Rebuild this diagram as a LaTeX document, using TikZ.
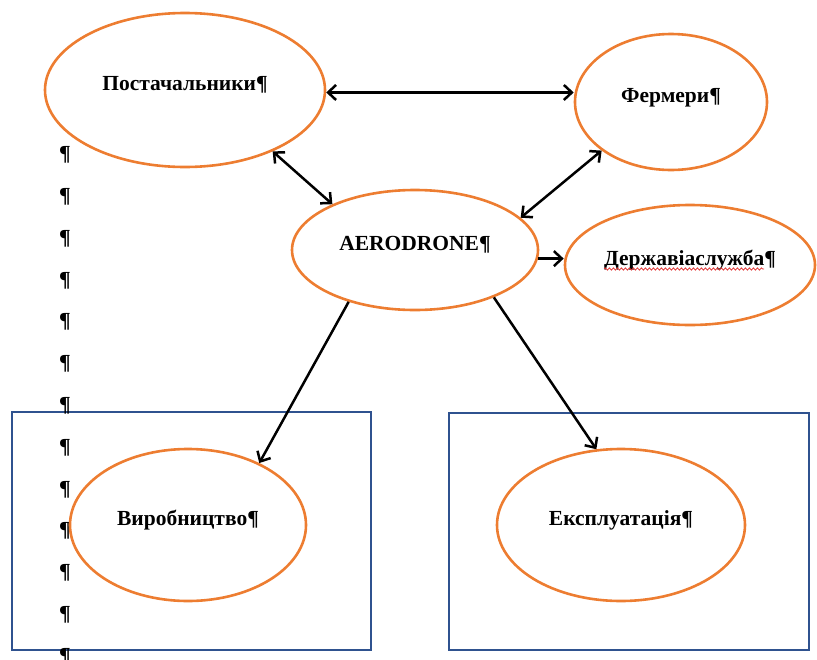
\documentclass[tikz,border=0pt]{standalone}
\usepackage{fontspec}
\setmainfont{Liberation Serif}
\usetikzlibrary{arrows.meta,decorations.pathmorphing,shapes.geometric}
\definecolor{ellorange}{HTML}{ED7D31}
\definecolor{boxblue}{HTML}{2F528F}
\definecolor{spellred}{HTML}{E03030}
\begin{document}
\begin{tikzpicture}[x=1pt,y=-1pt,
  oval/.style={ellipse, draw=ellorange, line width=2.6pt, inner sep=0pt,
    font=\bfseries\fontsize{21.5}{24}\selectfont, text height=15pt, text depth=15pt},
  frame/.style={rectangle, draw=boxblue, line width=2.1pt, inner sep=0pt},
  tip/.style={Straight Barb[length=8pt,width=15pt]},
  link/.style={line width=2.5pt, -{Straight Barb[length=8pt,width=15pt]}},
  dlink/.style={line width=2.5pt, {Straight Barb[length=8pt,width=15pt]}-{Straight Barb[length=8pt,width=15pt]}},
  pil/.style={font=\bfseries\fontsize{21.5}{24}\selectfont, inner sep=0pt}]
\useasboundingbox (0,0) rectangle (817,659);

% frames
\node[frame, minimum width=359pt, minimum height=238pt] (lframe) at (191.5,531) {};
\node[frame, minimum width=360pt, minimum height=237pt] (rframe) at (629,531.5) {};

% pilcrows on the left
\foreach \i in {0,...,12}{
  \node[pil] (pil\i) at (65,{155+41.8*\i}) {¶};
}

% ellipses
\node[oval, minimum width=280pt, minimum height=154pt] (post) at (185,90) {Постачальники¶};
\node[oval, minimum width=192pt, minimum height=136pt] (ferm) at (671,102) {Фермери¶};
\node[oval, minimum width=246pt, minimum height=120pt] (aero) at (415,250) {AERODRONE¶};
\node[oval, minimum width=250pt, minimum height=120pt] (derz) at (690,265) {Державіаслужба¶};
\node[oval, minimum width=236pt, minimum height=152pt] (vyro) at (188,525) {Виробництво¶};
\node[oval, minimum width=248pt, minimum height=152pt] (ekspl) at (621,525) {Експлуатація¶};

% spell-check underline
\draw[spellred, line width=0.8pt, decorate, decoration={snake, amplitude=1.1pt, segment length=4pt}]
  ([yshift=-4pt]derz.text) -- ([xshift=160pt,yshift=-4pt]derz.text);

% connectors
\draw[dlink] (post.-1) -- (post.-1 -| ferm.west);
\draw[dlink] (post.-35) -- (aero.151);
\draw[dlink] (ferm.215) -- (aero.17);
\draw[link] (aero.-4) -- (aero.-4 -| derz.west);
\draw[link] (aero.218) -- (vyro.41);
\draw[link] (aero.-31) -- (ekspl.108);
\end{tikzpicture}
\end{document}
